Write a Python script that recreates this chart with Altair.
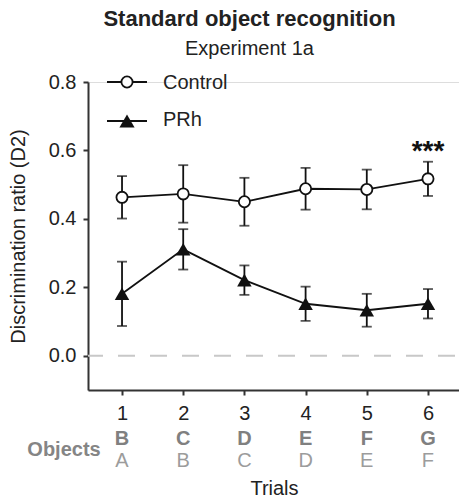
import altair as alt
import pandas as pd

trials = [1, 2, 3, 4, 5, 6]
control_mean = [0.463, 0.473, 0.450, 0.488, 0.486, 0.517]
control_sem = [0.062, 0.084, 0.070, 0.061, 0.058, 0.050]
prh_mean = [0.181, 0.311, 0.221, 0.152, 0.133, 0.152]
prh_sem = [0.094, 0.059, 0.043, 0.050, 0.048, 0.043]
objects_new = ["B", "C", "D", "E", "F", "G"]
objects_old = ["A", "B", "C", "D", "E", "F"]
sig_trial = [6]
sig_text = ["***"]

FONT = "Liberation Sans"

df = pd.DataFrame({
    "trial": trials * 2,
    "group": ["Control"] * 6 + ["PRh"] * 6,
    "mean": control_mean + prh_mean,
    "sem": control_sem + prh_sem,
})
df["lo"] = df["mean"] - df["sem"]
df["hi"] = df["mean"] + df["sem"]

obj_df = pd.DataFrame({"trial": trials, "new": objects_new, "old": objects_old})
sig_df = pd.DataFrame({"trial": sig_trial, "text": sig_text,
                       "y": [df.loc[(df.group == "Control") & (df.trial == 6), "hi"].iloc[0]]})

xscale = alt.Scale(domain=[0.444, 6.507], nice=False, zero=False)
yscale = alt.Scale(domain=[-0.1, 0.8], nice=False, zero=False)

x_enc = alt.X("trial:Q", scale=xscale, title="Trials",
              axis=alt.Axis(values=trials, format="d", grid=False, tickSize=5,
                            labelPadding=8, labelFontSize=20, labelColor="#222",
                            titleFontSize=20, titleFontWeight="normal", titleColor="#222",
                            titleX=186, titleY=104, titleBaseline="alphabetic",
                            domainColor="#333", domainWidth=2, tickColor="#333",
                            tickWidth=2))
y_enc = alt.Y("mean:Q", scale=yscale, title="Discrimination ratio (D2)",
              axis=alt.Axis(values=[0, 0.2, 0.4, 0.6, 0.8], format=".1f", grid=False,
                            tickSize=5, labelPadding=7, labelFontSize=20, labelColor="#222",
                            titleFontSize=20, titleFontWeight="normal", titleColor="#222",
                            titleX=-70, titleY=154, titleAngle=-90,
                            titleBaseline="middle", titleAlign="center",
                            domainColor="#333", domainWidth=2, tickColor="#333",
                            tickWidth=2))

base = alt.Chart(df)

zero_line = alt.Chart(pd.DataFrame({"z": [0]})).mark_rule(
    color="#c8c8c8", strokeWidth=2, strokeDash=[17, 15], strokeDashOffset=-4
).encode(y=alt.Y("z:Q", scale=yscale))

err = base.mark_rule(color="#111", strokeWidth=1.8).encode(
    x=x_enc, y=alt.Y("lo:Q", scale=yscale), y2="hi:Q", detail="group:N")
cap_lo = base.mark_tick(color="#111", size=10, thickness=1.8, orient="horizontal").encode(
    x=alt.X("trial:Q", scale=xscale), y=alt.Y("lo:Q", scale=yscale))
cap_hi = base.mark_tick(color="#111", size=10, thickness=1.8, orient="horizontal").encode(
    x=alt.X("trial:Q", scale=xscale), y=alt.Y("hi:Q", scale=yscale))

lines = base.mark_line(color="#111", strokeWidth=1.8).encode(
    x=alt.X("trial:Q", scale=xscale), y=y_enc, detail="group:N")

ctrl_pts = alt.Chart(df[df.group == "Control"]).mark_point(
    shape="circle", size=125, filled=True, fill="white", stroke="#111", strokeWidth=1.8,
    opacity=1).encode(x=alt.X("trial:Q", scale=xscale), y=alt.Y("mean:Q", scale=yscale))
prh_pts = alt.Chart(df[df.group == "PRh"]).mark_point(
    shape="triangle-up", size=210, filled=True, color="#111", opacity=1).encode(
    x=alt.X("trial:Q", scale=xscale), y=alt.Y("mean:Q", scale=yscale))

sig = alt.Chart(sig_df).mark_text(
    font=FONT, fontSize=28, fontWeight="bold", color="#111", baseline="middle", dy=-10
).encode(x=alt.X("trial:Q", scale=xscale), y=alt.Y("y:Q", scale=yscale), text="text:N")

row_new = alt.Chart(obj_df).mark_text(
    font=FONT, fontSize=20, fontWeight="bold", color="#808080", baseline="middle"
).encode(x=alt.X("trial:Q", scale=xscale), y=alt.value(356.7), text="new:N")
row_old = alt.Chart(obj_df).mark_text(
    font=FONT, fontSize=20, color="#9c9c9c", baseline="middle"
).encode(x=alt.X("trial:Q", scale=xscale), y=alt.value(379), text="old:N")
obj_label = alt.Chart(pd.DataFrame({"t": ["Objects"]})).mark_text(
    font=FONT, fontSize=20, fontWeight="bold", color="#858585", baseline="middle",
    align="center").encode(x=alt.value(-24), y=alt.value(368), text="t:N")

leg_df = pd.DataFrame({"t": ["Control", "PRh"]})
leg_line_c = alt.Chart(leg_df.iloc[[0]]).mark_rule(color="#111", strokeWidth=1.8).encode(
    x=alt.value(19), x2=alt.value(59), y=alt.value(0))
leg_line_p = alt.Chart(leg_df.iloc[[1]]).mark_rule(color="#111", strokeWidth=1.8).encode(
    x=alt.value(19), x2=alt.value(59), y=alt.value(39))
leg_pt_c = alt.Chart(leg_df.iloc[[0]]).mark_point(
    shape="circle", size=125, filled=True, fill="white", stroke="#111", strokeWidth=1.8,
    opacity=1).encode(x=alt.value(39), y=alt.value(0))
leg_pt_p = alt.Chart(leg_df.iloc[[1]]).mark_point(
    shape="triangle-up", size=230, filled=True, color="#111", opacity=1).encode(
    x=alt.value(39), y=alt.value(39))
leg_txt_c = alt.Chart(leg_df.iloc[[0]]).mark_text(
    font=FONT, fontSize=20, color="#222", align="left", baseline="middle").encode(
    x=alt.value(75), y=alt.value(1), text="t:N")
leg_txt_p = alt.Chart(leg_df.iloc[[1]]).mark_text(
    font=FONT, fontSize=20, color="#222", align="left", baseline="middle").encode(
    x=alt.value(75), y=alt.value(38), text="t:N")

chart = alt.layer(
    zero_line, err, cap_lo, cap_hi, lines, ctrl_pts, prh_pts, sig,
    row_new, row_old, obj_label,
    leg_line_c, leg_line_p, leg_pt_c, leg_pt_p, leg_txt_c, leg_txt_p,
).properties(
    width=371, height=308,
    autosize=alt.AutoSizeParams(type="none"),
    padding={"left": 88, "top": 82, "right": 0, "bottom": 110},
    title=alt.TitleParams(
        text="Standard object recognition", subtitle="Experiment 1a",
        font=FONT, fontSize=22, fontWeight="bold", color="#222",
        subtitleFont=FONT, subtitleFontSize=20, subtitleColor="#222",
        subtitlePadding=8, anchor="middle", dx=-24, offset=12,
    ),
).configure_view(stroke=None).configure(font=FONT)

chart.save("out.html", embed_options={"renderer": "svg", "actions": False})
